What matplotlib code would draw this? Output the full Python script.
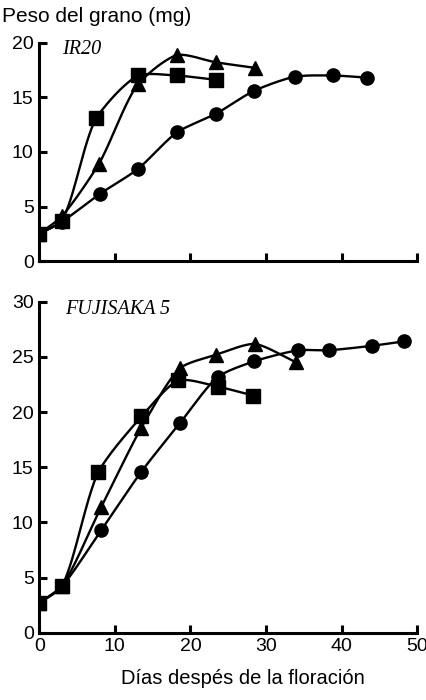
import matplotlib
matplotlib.use("Agg")
import matplotlib.pyplot as plt
import numpy as np

plt.rcParams['font.family'] = ['Liberation Sans', 'DejaVu Sans']

# IR20 (top panel)
ir_circ_x = [0, 3, 8, 13, 18.2, 23.4, 28.4, 33.8, 38.9, 43.4]
ir_circ_y = [2.5, 3.6, 6.15, 8.4, 11.8, 13.5, 15.6, 16.9, 17.0, 16.8]
ir_sq_x = [0, 3, 7.5, 13, 18.2, 23.4]
ir_sq_y = [2.5, 3.7, 13.1, 17.0, 17.0, 16.6]
ir_tri_x = [0, 3, 7.9, 13, 18.2, 23.4, 28.5]
ir_tri_y = [2.5, 4.1, 8.9, 16.2, 18.9, 18.2, 17.7]

# FUJISAKA 5 (bottom panel)
fj_circ_x = [0, 3, 8.2, 13.5, 18.6, 23.6, 28.4, 34.2, 38.3, 44.0, 48.2]
fj_circ_y = [2.7, 4.2, 9.3, 14.6, 19.0, 23.2, 24.6, 25.6, 25.6, 26.0, 26.4]
fj_sq_x = [0, 3, 7.8, 13.5, 18.4, 23.7, 28.3]
fj_sq_y = [2.7, 4.2, 14.6, 19.6, 22.9, 22.3, 21.5]
fj_tri_x = [0, 3, 8.2, 13.5, 18.6, 23.4, 28.5, 34.0]
fj_tri_y = [2.7, 4.2, 11.4, 18.6, 24.0, 25.2, 26.2, 24.5]


def smooth(x, y, n=30, sx=7.5, sy=11.0, w=0.6):
    # centripetal Catmull-Rom, done roughly in screen proportions,
    # blended with the straight segments (hand-drawn look)
    P = np.column_stack([np.asarray(x, float) * sx, np.asarray(y, float) * sy])
    P = np.vstack([2 * P[0] - P[1], P, 2 * P[-1] - P[-2]])
    out = []
    for i in range(1, len(P) - 2):
        p0, p1, p2, p3 = P[i - 1], P[i], P[i + 1], P[i + 2]
        t0 = 0.0
        t1 = t0 + np.linalg.norm(p1 - p0) ** 0.5
        t2 = t1 + np.linalg.norm(p2 - p1) ** 0.5
        t3 = t2 + np.linalg.norm(p3 - p2) ** 0.5
        t = np.linspace(t1, t2, n)[:, None]
        a1 = (t1 - t) / (t1 - t0) * p0 + (t - t0) / (t1 - t0) * p1
        a2 = (t2 - t) / (t2 - t1) * p1 + (t - t1) / (t2 - t1) * p2
        a3 = (t3 - t) / (t3 - t2) * p2 + (t - t2) / (t3 - t2) * p3
        b1 = (t2 - t) / (t2 - t0) * a1 + (t - t0) / (t2 - t0) * a2
        b2 = (t3 - t) / (t3 - t1) * a2 + (t - t1) / (t3 - t1) * a3
        c = (t2 - t) / (t2 - t1) * b1 + (t - t1) / (t2 - t1) * b2
        out.append(w * c + (1 - w) * a2)
    out = np.vstack(out)
    return out[:, 0] / sx, out[:, 1] / sy


def series(ax, x, y, marker, ms):
    lx, ly = smooth(x, y)
    ax.plot(lx, ly, color='black', lw=1.7)
    ax.plot(x, y, linestyle='none', marker=marker, ms=ms, color='black')


def style(ax, ymax):
    ax.set_xlim(0, 50)
    ax.set_ylim(0, ymax)
    ax.set_xticks(range(0, 51, 10))
    ax.set_yticks(range(0, ymax + 1, 5))
    for s in ('top', 'right'):
        ax.spines[s].set_visible(False)
    for s in ('left', 'bottom'):
        ax.spines[s].set_linewidth(2.2)
    ax.tick_params(direction='in', length=6, width=2.2, labelsize=14, pad=4)


fig = plt.figure(figsize=(4.27, 7.0), dpi=100)
ax1 = fig.add_axes([0.092, 0.627, 0.885, 0.312])
ax2 = fig.add_axes([0.092, 0.096, 0.885, 0.473])

series(ax1, ir_circ_x, ir_circ_y, 'o', 9.5)
series(ax1, ir_sq_x, ir_sq_y, 's', 9.5)
series(ax1, ir_tri_x, ir_tri_y, '^', 10.5)
style(ax1, 20)
ax1.set_xticklabels([])
ax1.text(3.0, 19.4, 'IR20', fontsize=14.5, style='italic',
         family='Liberation Serif', va='center')

series(ax2, fj_circ_x, fj_circ_y, 'o', 9.5)
series(ax2, fj_sq_x, fj_sq_y, 's', 9.5)
series(ax2, fj_tri_x, fj_tri_y, '^', 10.5)
style(ax2, 30)
ax2.text(3.4, 29.3, 'FUJISAKA 5', fontsize=14.5, style='italic',
         family='Liberation Serif', va='center')
ax2.set_xlabel('Días despés de la floración', fontsize=14.5)
ax2.xaxis.set_label_coords(0.54, -0.11)

fig.text(0.005, 0.976, 'Peso del grano (mg)', fontsize=15, va='center')

fig.savefig('out.png', dpi=100)
